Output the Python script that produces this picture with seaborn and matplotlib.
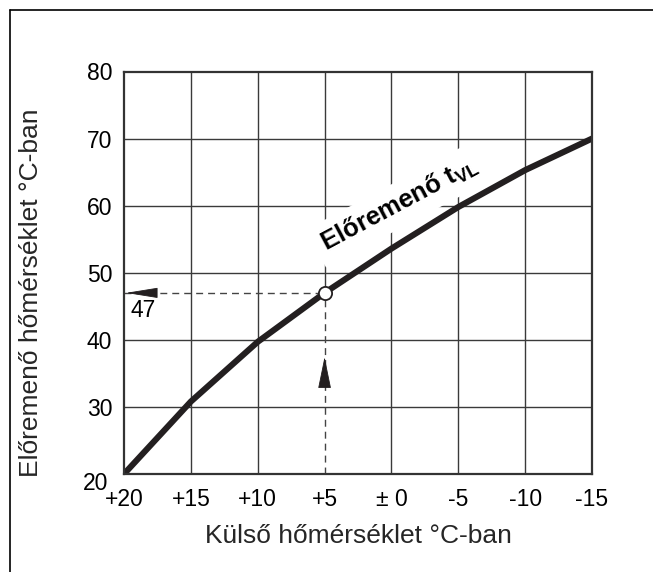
import matplotlib
matplotlib.use("Agg")
import matplotlib.pyplot as plt
import matplotlib.transforms as mtransforms
from matplotlib.lines import Line2D
import seaborn as sns

# values
outside_temp = [20, 15, 10, 5, 0, -5, -10, -15]
flow_temp = [20, 30.8, 39.7, 47, 53.6, 59.8, 65.3, 70]
x_ticks = [20, 15, 10, 5, 0, -5, -10, -15]
x_ticklabels = ["+20", "+15", "+10", "+5", "± 0", "-5", "-10", "-15"]
y_ticks = [20, 30, 40, 50, 60, 70, 80]
design_outside = 5
design_flow = 47

sns.set_style("white")
plt.rcParams["font.family"] = ["Liberation Sans", "DejaVu Sans"]
plt.rcParams["mathtext.fontset"] = "custom"
plt.rcParams["mathtext.bf"] = "Liberation Sans:bold"
plt.rcParams["mathtext.rm"] = "Liberation Sans"

ink = "#231f20"
grid_c = "#3a3a3a"

fig = plt.figure(figsize=(6.53, 5.72), dpi=100)
ax = fig.add_axes([0.1899, 0.1713, 0.7167, 0.7037])

ax.set_xlim(20, -15)
ax.set_ylim(20, 80)

# grid (the +5 line only above the marked point)
for v in y_ticks[1:-1]:
    ax.axhline(v, color=grid_c, lw=1.0, zorder=1)
for v in x_ticks[1:-1]:
    if v == design_outside:
        ax.axvline(v, ymin=(design_flow - 20) / 60, ymax=1, color=grid_c, lw=1.0, zorder=1)
    else:
        ax.axvline(v, color=grid_c, lw=1.0, zorder=1)

# dashed helper lines
ax.plot([20, design_outside], [design_flow, design_flow], color="#444444", lw=1.0,
        dashes=(5, 3.6), zorder=2)
ax.plot([design_outside, design_outside], [20, design_flow], color="#444444", lw=1.0,
        dashes=(5, 3.6), zorder=2)

# heating curve
sns.lineplot(x=outside_temp, y=flow_temp, ax=ax, color=ink, lw=4.4, zorder=3,
             solid_capstyle="round", solid_joinstyle="round", sort=False)

# marked point
ax.plot([design_outside], [design_flow], marker="o", ms=9.5, mfc="white", mec=ink,
        mew=1.3, zorder=5)

# arrows
ax.annotate("", xy=(19.85, design_flow), xytext=(17.6, design_flow),
            arrowprops=dict(arrowstyle="-|>,head_length=2.05,head_width=0.33",
                            color=ink, lw=0.6, shrinkA=0, shrinkB=0), zorder=4)
ax.annotate("", xy=(design_outside, 37.45), xytext=(design_outside, 33.1),
            arrowprops=dict(arrowstyle="-|>,head_length=2.05,head_width=0.42",
                            color=ink, lw=0.6, shrinkA=0, shrinkB=0), zorder=4)
ax.text(18.6, 44.4, str(design_flow), fontsize=16.5, ha="center", va="center", color="black")

# curve label
ax.text(-0.6, 60.2, r"Előremenő t$_{\mathbf{VL}}$", fontsize=18.5, fontweight="bold",
        rotation=28, rotation_mode="anchor", ha="center", va="center", color="black",
        bbox=dict(boxstyle="square,pad=0.3", fc="white", ec="none"), zorder=4)

# axes styling
ax.set_xticks(x_ticks)
ax.set_xticklabels(x_ticklabels)
ax.set_yticks(y_ticks)
ax.tick_params(axis="both", length=0, labelsize=16.5, colors="black")
ax.tick_params(axis="x", pad=10)
ax.tick_params(axis="y", pad=8.5)
for s in ax.spines.values():
    s.set_color("#333333")
    s.set_linewidth(1.6)
    s.set_zorder(6)

lab20 = ax.get_yticklabels()[0]
lab20.set_transform(lab20.get_transform()
                    + mtransforms.ScaledTranslation(-3 / 72, -5 / 72, fig.dpi_scale_trans))

ax.set_xlabel("Külső hőmérséklet °C-ban", fontsize=19)
ax.set_ylabel("Előremenő hőmérséklet °C-ban", fontsize=19)
ax.xaxis.set_label_coords(0.5, -0.124)
ax.yaxis.set_label_coords(-0.173, 0.45)

# frame of the drawing (top and left only)
fig.add_artist(Line2D([0.0153, 1.0], [0.9825, 0.9825], transform=fig.transFigure,
                      color="black", lw=1.2))
fig.add_artist(Line2D([0.0153, 0.0153], [0.0, 0.9825], transform=fig.transFigure,
                      color="black", lw=1.2))

fig.savefig("out.png", dpi=100)
